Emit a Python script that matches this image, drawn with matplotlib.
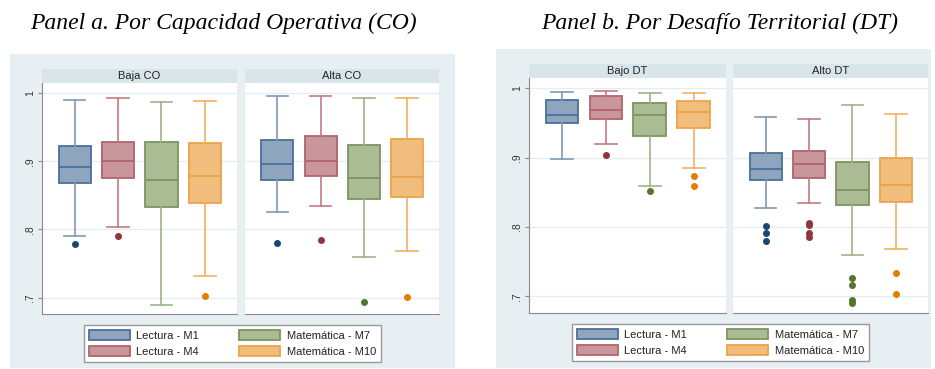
import numpy as np
import matplotlib.pyplot as plt
from matplotlib.patches import Rectangle, Patch

W, H = 935, 369

# grupos y colores
groups = ["Lectura - M1", "Lectura - M4", "Matemática - M7", "Matemática - M10"]
fills = ["#8fa5bd", "#c9969b", "#abbb94", "#f0bd7c"]
edges = ["#48709a", "#b3636b", "#7b9660", "#eca24a"]
whisk = ["#7f99b6", "#c27b82", "#9fb389", "#f1b061"]
dots = ["#1a476f", "#90353b", "#55752f", "#e37e00"]

# Panel a: Baja CO
baja_co_hi = [0.990, 0.992, 0.987, 0.988]
baja_co_q3 = [0.922, 0.928, 0.928, 0.927]
baja_co_med = [0.892, 0.900, 0.872, 0.879]
baja_co_q1 = [0.868, 0.875, 0.833, 0.839]
baja_co_lo = [0.791, 0.803, 0.690, 0.732]
baja_co_out = [[0.779], [0.790], [], [0.703]]

# Panel a: Alta CO
alta_co_hi = [0.995, 0.996, 0.993, 0.993]
alta_co_q3 = [0.931, 0.937, 0.923, 0.933]
alta_co_med = [0.896, 0.901, 0.875, 0.877]
alta_co_q1 = [0.873, 0.878, 0.845, 0.848]
alta_co_lo = [0.826, 0.835, 0.759, 0.768]
alta_co_out = [[0.780], [0.784], [0.694], [0.701]]

# Panel b: Bajo DT
bajo_dt_hi = [0.995, 0.996, 0.993, 0.993]
bajo_dt_q3 = [0.983, 0.988, 0.978, 0.982]
bajo_dt_med = [0.961, 0.968, 0.961, 0.965]
bajo_dt_q1 = [0.950, 0.955, 0.931, 0.943]
bajo_dt_lo = [0.898, 0.919, 0.859, 0.885]
bajo_dt_out = [[], [0.904], [0.852], [0.874, 0.859]]

# Panel b: Alto DT
alto_dt_hi = [0.959, 0.956, 0.975, 0.962]
alto_dt_q3 = [0.906, 0.909, 0.893, 0.899]
alto_dt_med = [0.883, 0.890, 0.853, 0.860]
alto_dt_q1 = [0.867, 0.870, 0.832, 0.836]
alto_dt_lo = [0.827, 0.835, 0.759, 0.768]
alto_dt_out = [[0.802, 0.791, 0.780], [0.806, 0.803, 0.791, 0.786],
               [0.726, 0.716, 0.695, 0.691], [0.734, 0.703]]

yticks = [0.7, 0.8, 0.9, 1.0]
ytick_labels = [".7", ".8", ".9", "1"]

BG = "#e8eff2"
STRIP = "#d8e5eb"
GRID = "#e4edf0"

plt.rcParams["font.family"] = ["Liberation Sans", "DejaVu Sans"]
fig = plt.figure(figsize=(W / 100, H / 100), dpi=100)


def box(x0, y0, x1, y1):
    # pixeles (arriba-izquierda) -> fracción de figura
    return [x0 / W, 1 - y1 / H, (x1 - x0) / W, (y1 - y0) / H]


def rect(x0, y0, x1, y1, color):
    l, b, w, h = box(x0, y0, x1, y1)
    fig.patches.append(Rectangle((l, b), w, h, transform=fig.transFigure,
                                 facecolor=color, edgecolor="none", zorder=-1))


def facet(x0, x1, ytop, ybot, title, hi, q3, med, q1, lo, out, first):
    # franja del título
    l, b, w, h = box(x0, ytop - 14, x1, ytop)
    rect(x0, ytop - 14, x1, ytop, STRIP)
    fig.text(l + w / 2, b + h / 2, title, ha="center", va="center",
             fontsize=8, color="#222222")
    ax = fig.add_axes(box(x0, ytop, x1, ybot))
    ax.set_facecolor("white")
    stats = []
    for i in range(4):
        stats.append(dict(med=med[i], q1=q1[i], q3=q3[i],
                          whislo=lo[i], whishi=hi[i], fliers=out[i]))
    bp = ax.bxp(stats, positions=[1, 2, 3, 4], widths=0.74,
                capwidths=0.5, patch_artist=True)
    for i in range(4):
        bp["boxes"][i].set(facecolor=fills[i], edgecolor=edges[i], linewidth=1.3)
        bp["medians"][i].set(color=edges[i], linewidth=1.3)
        for j in (2 * i, 2 * i + 1):
            bp["whiskers"][j].set(color=whisk[i], linewidth=1.2)
            bp["caps"][j].set(color=whisk[i], linewidth=1.2)
        bp["fliers"][i].set(marker="o", markerfacecolor=dots[i],
                            markeredgecolor=dots[i], markersize=4)
    ax.set_xlim(0.25, 4.74)
    ax.set_ylim(0.6762, 1.0145)
    ax.set_xticks([])
    ax.set_yticks(yticks)
    ax.grid(axis="y", color=GRID, linewidth=1)
    ax.set_axisbelow(True)
    for s in ("top", "right"):
        ax.spines[s].set_visible(False)
    ax.spines["bottom"].set_color("#8a8a8a")
    if first:
        ax.spines["left"].set_color("#8a8a8a")
        ax.set_yticklabels(ytick_labels, rotation=90, va="center",
                           fontsize=7.5, color="#333333")
        ax.tick_params(axis="y", length=3, width=0.8, color="#8a8a8a", pad=2)
    else:
        ax.spines["left"].set_visible(False)
        ax.tick_params(axis="y", length=0, labelleft=False)
    return ax


def legend_box(x0, y0, x1, y1):
    l, b, w, h = box(x0, y0, x1, y1)
    handles = [Patch(facecolor=fills[i], edgecolor=edges[i], linewidth=1.3)
               for i in range(4)]
    leg = fig.legend(handles, groups, ncol=2, loc="center",
                     bbox_to_anchor=(l + w / 2, b + h / 2),
                     fontsize=8, frameon=True, fancybox=False, framealpha=1,
                     handlelength=3.7, handleheight=0.9, handletextpad=0.6,
                     columnspacing=3.6, labelspacing=0.5, borderpad=0.45)
    leg.get_frame().set_edgecolor("#9a9a9a")
    leg.get_frame().set_facecolor("white")
    leg.get_frame().set_linewidth(1)
    for t in leg.get_texts():
        t.set_color("#222222")


# Panel a
rect(10, 54, 455, 368, BG)
fig.text(223 / W, 1 - 23 / H, "Panel a. Por Capacidad Operativa (CO)",
         ha="center", va="center", fontsize=17, style="italic",
         family="Liberation Serif")
facet(42, 237, 83, 314, "Baja CO", baja_co_hi, baja_co_q3, baja_co_med,
      baja_co_q1, baja_co_lo, baja_co_out, True)
facet(245, 439, 83, 314, "Alta CO", alta_co_hi, alta_co_q3, alta_co_med,
      alta_co_q1, alta_co_lo, alta_co_out, False)
legend_box(81, 325, 384, 362)

# Panel b
rect(496, 49, 931, 368, BG)
fig.text(720 / W, 1 - 23 / H, "Panel b. Por Desafío Territorial (DT)",
         ha="center", va="center", fontsize=17, style="italic",
         family="Liberation Serif")
facet(529, 726, 78, 313, "Bajo DT", bajo_dt_hi, bajo_dt_q3, bajo_dt_med,
      bajo_dt_q1, bajo_dt_lo, bajo_dt_out, True)
facet(733, 928, 78, 313, "Alto DT", alto_dt_hi, alto_dt_q3, alto_dt_med,
      alto_dt_q1, alto_dt_lo, alto_dt_out, False)
legend_box(567, 324, 874, 361)

fig.savefig("out.png", dpi=100, facecolor="white")
